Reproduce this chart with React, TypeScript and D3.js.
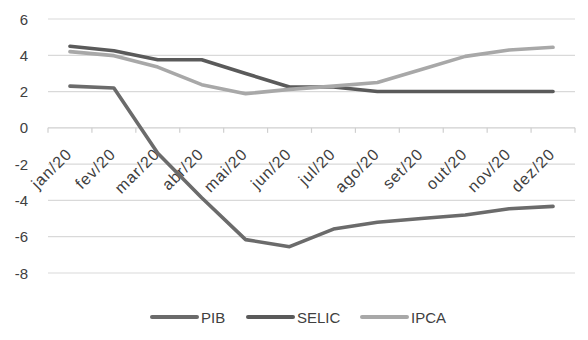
import React from "react";
import * as d3 from "d3";

// Monthly series for 2020
const months = ["jan/20", "fev/20", "mar/20", "abr/20", "mai/20", "jun/20", "jul/20", "ago/20", "set/20", "out/20", "nov/20", "dez/20"];
const pib = [2.3, 2.2, -1.4, -3.85, -6.16, -6.55, -5.58, -5.2, -5.0, -4.8, -4.46, -4.33];
const selic = [4.5, 4.25, 3.75, 3.75, 3.0, 2.25, 2.25, 2.0, 2.0, 2.0, 2.0, 2.0];
const ipca = [4.2, 3.98, 3.35, 2.38, 1.88, 2.12, 2.3, 2.5, 3.22, 3.94, 4.29, 4.44];
const yTicks = [-8, -6, -4, -2, 0, 2, 4, 6];

const seriesNames = ["PIB", "SELIC", "IPCA"];
const seriesColors = ["#6b6b6b", "#5a5a5a", "#a8a8a8"];

const W = 588;
const H = 340;
const FONT = "'Liberation Sans', Arial, sans-serif";
const TEXT = "#404040";

export default function App() {
  const x = d3.scaleBand<string>().domain(months).range([48, 575]);
  const y = d3.scaleLinear().domain([-8, 6]).range([273, 19]);
  const cx = (m: string) => (x(m) ?? 0) + x.bandwidth() / 2;

  const line = d3
    .line<number>()
    .x((_, i) => cx(months[i]))
    .y((v) => y(v));

  const series = [pib, selic, ipca];
  const bounds = d3.range(months.length + 1).map((i) => 48 + i * x.bandwidth());

  // legend entries: swatch start positions
  const legendX = [152, 248, 362];
  const legendY = 317;

  return (
    <svg
      width={W}
      height={H}
      style={{ position: "absolute", left: 0, top: 0, background: "#fff" }}
      fontFamily={FONT}
    >
      {/* horizontal gridlines */}
      {yTicks.filter((t) => t !== 0).map((t) => (
        <line key={t} x1={48} x2={575} y1={y(t)} y2={y(t)} stroke="#d9d9d9" strokeWidth={1.2} />
      ))}
      {/* category axis at zero */}
      <line x1={48} x2={575} y1={y(0)} y2={y(0)} stroke="#cfcfcf" strokeWidth={1.2} />
      {bounds.map((b, i) => (
        <line key={i} x1={b} x2={b} y1={y(0)} y2={y(0) + 5} stroke="#cfcfcf" strokeWidth={1.2} />
      ))}

      {/* value labels */}
      {yTicks.map((t) => (
        <text key={t} x={28} y={y(t) + 5.5} textAnchor="end" fontSize={15} fill={TEXT}>
          {t}
        </text>
      ))}

      {/* category labels, rotated */}
      {months.map((m) => (
        <text
          key={m}
          transform={`translate(${cx(m) + 3},${155}) rotate(-45)`}
          textAnchor="end"
          fontSize={16}
          letterSpacing={1}
          fill={TEXT}
        >
          {m}
        </text>
      ))}

      {/* series lines */}
      {series.map((s, k) => (
        <path
          key={k}
          d={line(s) ?? ""}
          fill="none"
          stroke={seriesColors[k]}
          strokeWidth={3.6}
          strokeLinejoin="round"
          strokeLinecap="round"
        />
      ))}

      {/* legend */}
      {seriesNames.map((n, k) => (
        <g key={n}>
          <line
            x1={legendX[k]}
            x2={legendX[k] + 45}
            y1={legendY}
            y2={legendY}
            stroke={seriesColors[k]}
            strokeWidth={4}
            strokeLinecap="round"
          />
          <text x={legendX[k] + 49} y={legendY + 5.5} fontSize={15} fill={TEXT}>
            {n}
          </text>
        </g>
      ))}
    </svg>
  );
}
